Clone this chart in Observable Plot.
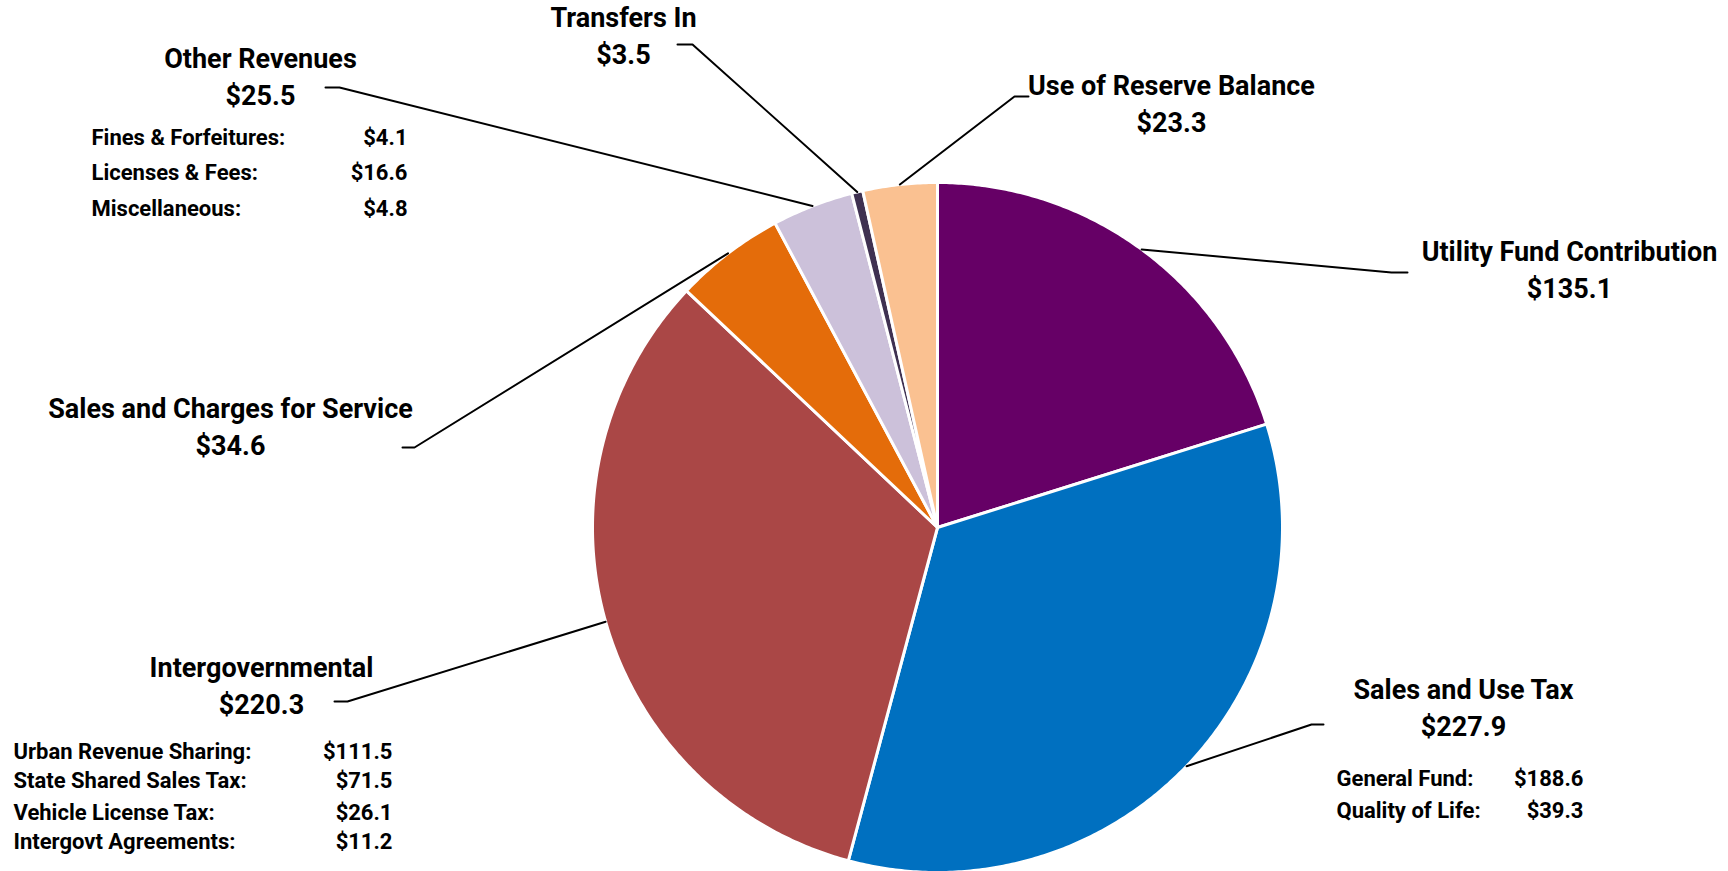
<!DOCTYPE html>
<html>
<head>
<meta charset="utf-8">
<script src="https://cdn.jsdelivr.net/npm/d3@7"></script>
<script src="https://cdn.jsdelivr.net/npm/@observablehq/plot@0.6"></script>
<style>
  html, body { margin: 0; padding: 0; background: #fff; overflow: hidden; }
</style>
</head>
<body>
<div id="chart"></div>
<script>
// ---- Data ----
const names = [
  "Utility Fund Contribution",
  "Sales and Use Tax",
  "Intergovernmental",
  "Sales and Charges for Service",
  "Other Revenues",
  "Transfers In",
  "Use of Reserve Balance"
];
const values = [135.1, 227.9, 220.3, 34.6, 25.5, 3.5, 23.3];
const colors = ["#660066", "#0070C0", "#AA4746", "#E46C0A", "#CCC1DA", "#3F3151", "#FAC191"];

const otherItems = ["Fines & Forfeitures:", "Licenses & Fees:", "Miscellaneous:"];
const otherValues = [4.1, 16.6, 4.8];
const intergovItems = ["Urban Revenue Sharing:", "State Shared Sales Tax:", "Vehicle License Tax:", "Intergovt Agreements:"];
const intergovValues = [111.5, 71.5, 26.1, 11.2];
const salesUseItems = ["General Fund:", "Quality of Life:"];
const salesUseValues = [188.6, 39.3];

// ---- Layout (pixels) ----
const W = 1728, H = 871;
const CX = 937, CY = 527, R = 345;
const HEAD = 27, SUB = 22, LINE = 37;
const labelLayout = {
  "Utility Fund Contribution":     {lx: 1569, ly: 267,   elbow: [1391, 272], end: [1407, 272]},
  "Sales and Use Tax":             {lx: 1463, ly: 705,   elbow: [1311, 724], end: [1323, 724]},
  "Intergovernmental":             {lx: 261,  ly: 683,   elbow: [347, 701],  end: [334, 701]},
  "Sales and Charges for Service": {lx: 230,  ly: 424,   elbow: [414, 447],  end: [402, 447]},
  "Other Revenues":                {lx: 260,  ly: 74,    elbow: [339, 87],   end: [325, 87]},
  "Transfers In":                  {lx: 623,  ly: 33.5,  elbow: [692, 44],   end: [677, 44]},
  "Use of Reserve Balance":        {lx: 1171, ly: 101,   elbow: [1014, 96],  end: [1028, 96]}
};
const subLayout = [
  {items: otherItems,    vals: otherValues,    lx: 91,   vx: 407,  ys: [137, 172, 208]},
  {items: intergovItems, vals: intergovValues, lx: 13,   vx: 392,  ys: [751, 780, 812, 841]},
  {items: salesUseItems, vals: salesUseValues, lx: 1336, vx: 1583, ys: [778, 810]}
];

const fmt = v => "$" + d3.format(".1f")(v);

// ---- Geometry from data ----
const arcs = d3.pie().sort(null).value(d => d)(values);
const px = a => CX + R * Math.sin(a);
const py = a => CY - R * Math.cos(a);

const slicePts = [];
arcs.forEach((a, i) => {
  slicePts.push({name: names[i], x: CX, y: CY});
  const n = Math.max(2, Math.ceil((a.endAngle - a.startAngle) / (Math.PI / 360)));
  for (let k = 0; k <= n; k++) {
    const t = a.startAngle + (a.endAngle - a.startAngle) * k / n;
    slicePts.push({name: names[i], x: px(t), y: py(t)});
  }
});

const leaderPts = [];
arcs.forEach((a, i) => {
  const L = labelLayout[names[i]];
  const mid = (a.startAngle + a.endAngle) / 2;
  leaderPts.push({name: names[i], x: px(mid), y: py(mid)});
  leaderPts.push({name: names[i], x: L.elbow[0], y: L.elbow[1]});
  leaderPts.push({name: names[i], x: L.end[0], y: L.end[1]});
});

const headLabels = names.map((n, i) => ({
  text: n + "\n" + fmt(values[i]),
  x: labelLayout[n].lx, y: labelLayout[n].ly
}));

const subLabels = [];
const subVals = [];
subLayout.forEach(g => {
  g.items.forEach((it, j) => {
    subLabels.push({text: it, x: g.lx, y: g.ys[j]});
    subVals.push({text: fmt(g.vals[j]), x: g.vx, y: g.ys[j]});
  });
});

const chart = Plot.plot({
  width: W, height: H,
  margin: 0,
  x: {domain: [0, W], range: [0, W], axis: null},
  y: {domain: [0, H], range: [0, H], axis: null},
  color: {domain: names, range: colors},
  style: {fontFamily: "Roboto, sans-serif", background: "#fff", color: "#000"},
  marks: [
    Plot.line(slicePts, {x: "x", y: "y", z: "name", fill: "name", stroke: "#fff", strokeWidth: 3, curve: "linear-closed"}),
    Plot.line(leaderPts, {x: "x", y: "y", z: "name", stroke: "#000", strokeWidth: 2}),
    Plot.text(headLabels, {x: "x", y: "y", text: "text", fontSize: HEAD, fontWeight: "bold", lineHeight: LINE / HEAD, fill: "#000"}),
    Plot.text(subLabels, {x: "x", y: "y", text: "text", fontSize: SUB, fontWeight: "bold", textAnchor: "start", fill: "#000"}),
    Plot.text(subVals, {x: "x", y: "y", text: "text", fontSize: SUB, fontWeight: "bold", textAnchor: "end", fill: "#000"})
  ]
});
document.getElementById("chart").appendChild(chart);
</script>
</body>
</html>
